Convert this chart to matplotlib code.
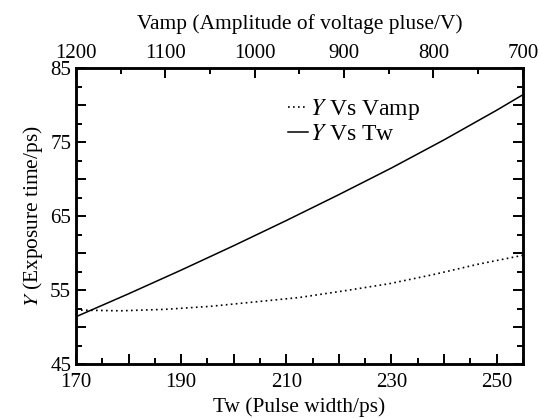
import numpy as np
import matplotlib.pyplot as plt
from matplotlib.ticker import MultipleLocator

plt.rcParams['font.family'] = ['Liberation Serif', 'DejaVu Serif']
plt.rcParams['mathtext.fontset'] = 'stix'

# Y vs Tw (bottom axis)
tw = [170, 180, 190, 200, 210, 220, 230, 240, 250, 255]
y_tw = [51.4, 54.5, 57.7, 61.0, 64.4, 67.9, 71.5, 75.3, 79.3, 81.4]

# Y vs Vamp (top axis)
vamp = [1200, 1150, 1100, 1050, 1000, 950, 900, 850, 800, 750, 700]
y_vamp = [52.3, 52.2, 52.4, 52.8, 53.4, 54.0, 54.9, 55.85, 57.1, 58.5, 59.7]

xticks = [170, 180, 190, 200, 210, 220, 230, 240, 250]
xtick_labels = ['170', '', '190', '', '210', '', '230', '', '250']
yticks = [45, 50, 55, 60, 65, 70, 75, 80, 85]
ytick_labels = ['45', '', '55', '', '65', '', '75', '', '85']
top_ticks = [1200, 1100, 1000, 900, 800, 700]

fig = plt.figure(figsize=(5.39, 4.18), dpi=100)
ax = fig.add_axes([0.141, 0.129, 0.829, 0.708])
ax2 = ax.twiny()

l1, = ax2.plot(vamp, y_vamp, color='black', lw=1.2, ls=(0, (1, 2)))
l2, = ax.plot(tw, y_tw, color='black', lw=1.1)

ax.set_xlim(170, 255)
ax.set_ylim(45, 85)
ax2.set_xlim(1200, 700)

ax.set_xticks(xticks)
ax.set_xticklabels(xtick_labels)
ax.xaxis.set_minor_locator(MultipleLocator(5))
ax.set_yticks(yticks)
ax.set_yticklabels(ytick_labels)
ax.yaxis.set_minor_locator(MultipleLocator(2.5))
ax2.set_xticks(top_ticks)
ax2.xaxis.set_minor_locator(MultipleLocator(50))

fs = 15
ax.tick_params(axis='both', which='major', direction='in', length=7, width=1.4,
               labelsize=fs)
ax.tick_params(axis='both', which='minor', direction='in', length=4, width=1.4)
ax.tick_params(axis='x', which='major', pad=6.5)
ax.tick_params(axis='y', which='major', pad=3.5)
ax.tick_params(axis='y', which='both', right=True)
ax.tick_params(axis='x', which='both', top=False)
ax2.tick_params(axis='x', which='major', direction='in', length=7, width=1.4,
                labelsize=fs, pad=3.5)
ax2.tick_params(axis='x', which='minor', direction='in', length=4, width=1.4)

for a in (ax, ax2):
    for s in a.spines.values():
        s.set_linewidth(1.8)

ax.set_xlabel('Tw (Pulse width/ps)', fontsize=15.4, labelpad=4)
ax.set_ylabel('$Y$ (Exposure time/ps)', fontsize=15.4, labelpad=4)
ax2.set_xlabel('Vamp (Amplitude of voltage pluse/V)', fontsize=15.4,
               labelpad=11)

ax.legend([l1, l2], ['$Y$ Vs Vamp', '$Y$ Vs Tw'], loc='upper left',
          bbox_to_anchor=(0.474, 0.902), frameon=False, fontsize=17,
          borderpad=0, borderaxespad=0,
          handlelength=0.85, handletextpad=0.1, labelspacing=0.05)

fig.savefig('out.png', dpi=100)
